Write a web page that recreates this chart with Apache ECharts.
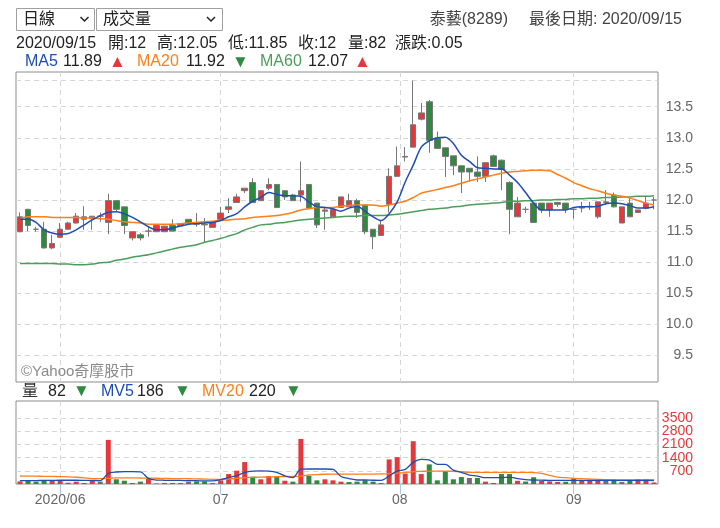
<!DOCTYPE html>
<html><head><meta charset="utf-8">
<script src="https://cdn.jsdelivr.net/npm/echarts@6/dist/echarts.min.js"></script>
<style>html,body{margin:0;padding:0;background:#fff}#c{width:720px;height:528px}</style>
</head><body><div id="c"></div><script>
const stockName = '泰藝(8289)';
const lastDateLabel = '2020/09/15';
const dates = [
 '2020/05/25','2020/05/26','2020/05/27','2020/05/28','2020/05/29',
 '2020/06/01','2020/06/02','2020/06/03','2020/06/04','2020/06/05','2020/06/08','2020/06/09','2020/06/10','2020/06/11','2020/06/12',
 '2020/06/15','2020/06/16','2020/06/17','2020/06/18','2020/06/19','2020/06/22','2020/06/23','2020/06/24','2020/06/29','2020/06/30',
 '2020/07/01','2020/07/02','2020/07/03','2020/07/06','2020/07/07','2020/07/08','2020/07/09','2020/07/10','2020/07/13','2020/07/14',
 '2020/07/15','2020/07/16','2020/07/17','2020/07/20','2020/07/21','2020/07/22','2020/07/23','2020/07/24','2020/07/27','2020/07/28',
 '2020/07/29','2020/07/30','2020/07/31',
 '2020/08/03','2020/08/04','2020/08/05','2020/08/06','2020/08/07','2020/08/10','2020/08/11','2020/08/12','2020/08/13','2020/08/14',
 '2020/08/17','2020/08/18','2020/08/19','2020/08/20','2020/08/21','2020/08/24','2020/08/25','2020/08/26','2020/08/27','2020/08/28','2020/08/31',
 '2020/09/01','2020/09/02','2020/09/03','2020/09/04','2020/09/07','2020/09/08','2020/09/09','2020/09/10','2020/09/11','2020/09/14','2020/09/15'
];
const opens = [11.49,11.85,11.53,11.53,11.23,11.40,11.53,11.63,11.69,11.70,11.74,11.64,11.99,11.89,11.39,11.44,11.50,11.49,11.49,11.59,
 11.59,11.69,11.64,11.61,11.56,11.69,11.85,11.96,12.15,12.28,11.99,12.19,12.25,12.15,12.08,12.08,12.25,11.95,11.82,11.73,
 11.88,11.89,11.99,11.92,11.53,11.43,11.93,12.38,12.69,12.85,13.30,13.58,12.99,12.84,12.71,12.55,12.51,12.45,12.38,12.71,
 12.64,12.28,11.73,11.85,11.95,11.95,11.84,11.93,11.95,11.85,11.87,11.89,11.73,11.96,12.08,11.63,11.95,11.80,11.87,12.00];
const highs = [11.80,11.86,11.57,11.65,11.44,11.63,11.65,11.79,11.90,11.74,11.80,12.10,11.99,11.89,11.49,11.47,11.56,11.59,11.58,11.69,
 11.62,11.69,11.79,11.71,11.64,11.89,12.03,12.10,12.19,12.35,12.15,12.35,12.25,12.15,12.10,12.62,12.25,11.95,11.88,11.85,
 12.05,12.10,12.02,11.92,11.53,11.67,12.51,12.86,12.85,13.92,13.56,13.61,13.10,12.84,12.71,12.55,12.51,12.70,12.60,12.73,
 12.65,12.30,12.05,11.89,11.95,11.95,11.95,11.97,11.95,11.86,11.97,11.97,11.97,12.16,12.12,11.89,12.03,11.84,12.06,12.05];
const lows = [11.48,11.50,11.49,11.22,11.21,11.39,11.52,11.62,11.52,11.52,11.65,11.45,11.81,11.45,11.35,11.35,11.41,11.49,11.49,11.50,
 11.59,11.61,11.57,11.31,11.56,11.69,11.79,11.96,12.11,11.96,11.99,12.16,11.87,12.00,11.99,11.97,11.87,11.55,11.52,11.73,
 11.88,11.89,11.71,11.45,11.21,11.43,11.80,12.38,12.62,12.85,13.28,12.76,12.83,12.37,12.40,12.11,12.29,12.29,12.29,12.54,
 12.16,11.45,11.73,11.79,11.64,11.79,11.73,11.89,11.79,11.70,11.80,11.84,11.70,11.92,11.88,11.63,11.73,11.79,11.85,11.85];
const closes = [11.73,11.59,11.53,11.23,11.30,11.53,11.63,11.74,11.73,11.74,11.74,11.99,11.85,11.59,11.49,11.39,11.50,11.59,11.58,11.50,
 11.62,11.62,11.61,11.60,11.64,11.79,11.89,12.05,12.19,11.96,12.15,12.25,11.88,12.05,11.99,12.15,11.87,11.60,11.84,11.85,
 12.05,11.99,11.80,11.49,11.41,11.60,12.38,12.55,12.70,13.21,13.40,12.96,12.83,12.70,12.55,12.45,12.45,12.38,12.60,12.54,
 12.49,11.85,11.95,11.85,11.64,11.84,11.95,11.96,11.85,11.85,11.89,11.90,11.97,11.97,11.89,11.89,11.73,11.84,11.95,12.00];
const volumes = [140,160,125,195,195,195,70,125,55,160,125,2350,250,175,55,125,285,30,55,55,
 55,125,140,140,55,195,530,710,1170,390,250,425,425,175,125,2400,425,195,250,195,
 125,105,125,195,125,55,1310,1430,550,2280,530,1045,195,690,250,370,320,320,125,55,
 530,530,170,130,360,170,140,110,120,290,170,170,170,240,170,110,210,260,268,82];
const ma5 = [11.69,11.69,11.64,11.52,11.47,11.45,11.46,11.52,11.60,11.68,11.75,11.80,11.81,11.78,11.72,11.65,11.57,11.52,11.52,11.55,
 11.58,11.61,11.62,11.63,11.64,11.67,11.73,11.78,11.89,11.98,12.04,12.12,12.09,12.07,12.07,12.06,11.97,11.89,11.88,11.86,
 11.82,11.87,11.90,11.82,11.73,11.67,11.78,11.97,12.29,12.56,12.85,12.95,13.00,13.01,12.91,12.72,12.62,12.52,12.51,12.50,
 12.50,12.40,12.28,12.12,11.95,11.84,11.84,11.84,11.84,11.88,11.89,11.89,11.90,11.94,11.95,11.94,11.91,11.87,11.87,11.89];
const ma20 = [11.70,11.73,11.73,11.73,11.72,11.72,11.72,11.72,11.71,11.71,11.70,11.69,11.67,11.65,11.64,11.63,11.61,11.61,11.61,11.61,
 11.62,11.63,11.64,11.65,11.66,11.67,11.68,11.69,11.70,11.72,11.73,11.74,11.75,11.77,11.80,11.84,11.86,11.88,11.88,11.88,
 11.90,11.91,11.92,11.92,11.92,11.90,11.92,11.95,11.98,12.04,12.11,12.14,12.17,12.20,12.23,12.27,12.31,12.34,12.37,12.40,
 12.43,12.45,12.46,12.47,12.48,12.48,12.47,12.41,12.35,12.28,12.23,12.18,12.15,12.11,12.08,12.06,12.03,11.99,11.95,11.92];
const ma60 = [10.98,10.98,10.98,10.98,10.98,10.97,10.97,10.96,10.96,10.97,10.99,11.00,11.03,11.05,11.08,11.10,11.12,11.15,11.18,11.21,
 11.24,11.26,11.28,11.32,11.35,11.38,11.42,11.46,11.52,11.56,11.60,11.61,11.63,11.64,11.66,11.68,11.69,11.70,11.71,11.72,
 11.73,11.74,11.74,11.75,11.75,11.75,11.76,11.77,11.79,11.81,11.83,11.85,11.86,11.87,11.89,11.90,11.92,11.93,11.94,11.95,
 11.96,11.98,11.98,11.99,11.99,12.00,12.00,12.01,12.01,12.02,12.02,12.03,12.03,12.04,12.04,12.05,12.05,12.06,12.06,12.07];
const mv5 = [175,180,185,190,195,200,200,200,195,190,180,560,640,660,660,650,300,210,200,195,
 190,180,175,165,165,230,340,440,620,690,700,690,620,430,340,790,800,800,800,780,
 400,290,212,212,200,195,425,690,780,1150,1310,1280,1045,1045,740,620,477,425,335,335,
 335,370,283,230,212,205,195,195,195,190,195,195,195,195,195,195,190,190,190,186];
const mv20 = [425,420,415,410,405,395,380,360,330,290,283,300,330,330,325,320,315,305,295,290,
 285,280,270,260,250,250,265,300,340,355,370,375,385,390,400,420,480,500,520,530,
 530,530,530,530,530,535,550,583,600,655,672,690,690,690,670,655,620,620,620,620,
 620,620,620,615,610,565,460,370,335,300,283,265,250,230,230,220,220,220,225,220];
const priceTicks = [9.5,10.0,10.5,11.0,11.5,12.0,12.5,13.0,13.5];
const volTicks = [700,1400,2100,2800,3500];
const monthStarts = ['2020/06/01','2020/07/01','2020/08/01','2020/09/01'];
const monthLabels = ['2020/06','07','08','09'];

const FONT = "'Liberation Sans','Noto Sans CJK TC',sans-serif";
const RED = '#e3393c', GREEN = '#2e8a3e', GRAY = '#6e6e6e';
const C_MA5 = '#1f4db3', C_MA20 = '#ff7f1a', C_MA60 = '#4a9e5a';
const GRIDLINE = {show: true, showMinLine: true, showMaxLine: true, lineStyle: {color: '#d6d6d6', width: 1, type: [5, 4]}};
const N = dates.length, last = N - 1;

const toT = d => Date.parse(d.replace(/\//g, '-'));
function monthPos(d) {
  const t = toT(d);
  for (let i = 0; i < N; i++) {
    const ti = toT(dates[i]);
    if (ti === t) return i + 0.5;
    if (ti > t) { const tp = toT(dates[i - 1]); return i - 0.5 + (t - tp) / (ti - tp); }
  }
  return N;
}
const monthPosArr = monthStarts.map(monthPos);

const candleData = dates.map((d, i) => [opens[i], closes[i], lows[i], highs[i]]);
const volData = volumes.map((v, i) => {
  const ref = i === 0 ? opens[0] : closes[i - 1];
  const c = closes[i] > ref ? RED : (closes[i] < ref ? GREEN : GRAY);
  return {value: v, itemStyle: {color: c}};
});

function txt(x, y, s, color, size, align) {
  return {type: 'text', x: x, y: y, silent: true,
    style: {text: s, fill: color, font: size + 'px ' + FONT, align: align || 'left', verticalAlign: 'middle'}};
}
const arrow = (a, b) => a >= b ? ['▲', RED] : ['▼', GREEN];
const fmt = v => String(+v.toFixed(2));

const graphic = [];
graphic.push({type: 'rect', shape: {x: 16.5, y: 8.5, width: 78, height: 22}, style: {fill: '#fff', stroke: '#a0a0a0', lineWidth: 1}});
graphic.push(txt(23, 20, '日線', '#222', 16));
graphic.push({type: 'polyline', shape: {points: [[80.5, 17], [84.5, 21], [88.5, 17]]}, style: {stroke: '#222', lineWidth: 1.5, fill: null}});
graphic.push({type: 'rect', shape: {x: 96.5, y: 8.5, width: 126, height: 22}, style: {fill: '#fff', stroke: '#a0a0a0', lineWidth: 1}});
graphic.push(txt(103, 20, '成交量', '#222', 16));
graphic.push({type: 'polyline', shape: {points: [[207, 17], [211, 21], [215, 17]]}, style: {stroke: '#222', lineWidth: 1.5, fill: null}});
graphic.push(txt(508, 20, stockName, '#444', 16, 'right'));
graphic.push(txt(682, 20, '最後日期: ' + lastDateLabel, '#444', 16, 'right'));

const line2 = [[16, lastDateLabel], [108, '開:' + fmt(opens[last])], [157, '高:' + fmt(highs[last])], [228, '低:' + fmt(lows[last])],
  [298, '收:' + fmt(closes[last])], [348, '量:' + volumes[last]], [395, '漲跌:' + (closes[last] - closes[last - 1]).toFixed(2)]];
line2.forEach(p => graphic.push(txt(p[0], 43.5, p[1], '#222', 16)));

function legendItem(x, name, nameColor, vals, numX, triX, valFmt) {
  const a = arrow(vals[last], vals[last - 1]);
  graphic.push(txt(x, 62, name, nameColor, 16));
  graphic.push(txt(numX, 62, valFmt(vals[last]), '#222', 16));
  graphic.push(txt(triX, 62, a[0], a[1], 17));
}
legendItem(25, 'MA5', C_MA5, ma5, 63, 109, v => v.toFixed(2));
legendItem(137, 'MA20', C_MA20, ma20, 186, 232, v => v.toFixed(2));
legendItem(260, 'MA60', C_MA60, ma60, 308, 354, v => v.toFixed(2));

function volLegend(x, name, nameColor, vals, numX, triX) {
  const a = arrow(vals[last], vals[last - 1]);
  graphic.push(txt(x, 391.5, name, nameColor, 16));
  graphic.push(txt(numX, 391.5, String(vals[last]), '#222', 16));
  graphic.push(txt(triX, 391.5, a[0], a[1], 17));
}
volLegend(22, '量', '#333', volumes, 48, 73);
volLegend(101, 'MV5', C_MA5, mv5, 137, 174);
volLegend(202, 'MV20', C_MA20, mv20, 249, 285);
graphic.push(txt(21, 372, '©Yahoo奇摩股市', '#8a8a8a', 15));

// volume tick labels split over two right-side axes so that neighbouring labels are never dropped
const volTicksA = volTicks.filter((v, i) => i % 2 === 0);
const volTicksB = volTicks.filter((v, i) => i % 2 === 1);
const VOLMAX = 4420;
function volAxis(labels, withLines) {
  return {type: 'value', gridIndex: 1, position: 'right', min: 0, max: VOLMAX,
    axisLine: {show: false},
    axisTick: {show: false, customValues: withLines ? volTicks : labels},
    axisLabel: {customValues: labels, formatter: v => String(v), align: 'right', margin: 35, color: RED, fontSize: 14,
      hideOverlap: false, showMinLabel: true, showMaxLabel: true},
    splitLine: withLines ? GRIDLINE : {show: false}};
}

const chart = echarts.init(document.getElementById('c'), null, {renderer: 'canvas'});
chart.setOption({
  animation: false,
  backgroundColor: '#fff',
  textStyle: {fontFamily: FONT},
  grid: [
    {left: 16, top: 72, width: 642, height: 310, show: true, borderColor: '#8c8c8c', borderWidth: 1, backgroundColor: 'transparent'},
    {left: 16, top: 401, width: 642, height: 83, show: true, borderColor: '#8c8c8c', borderWidth: 1, backgroundColor: 'transparent'}
  ],
  xAxis: [
    {type: 'category', gridIndex: 0, data: dates, show: false, position: 'bottom'},
    {type: 'category', gridIndex: 1, data: dates, show: false, position: 'bottom'},
    {type: 'value', gridIndex: 0, min: 0, max: N, position: 'bottom',
      axisLine: {show: false}, axisLabel: {show: false},
      axisTick: {show: false, customValues: monthPosArr}, splitLine: GRIDLINE},
    {type: 'value', gridIndex: 1, min: 0, max: N, position: 'bottom',
      axisLine: {show: false},
      axisTick: {show: true, length: 10, customValues: monthPosArr, lineStyle: {color: '#a9c7e6', width: 1}},
      axisLabel: {customValues: monthPosArr, margin: 9, color: '#666', fontSize: 14, hideOverlap: false,
        formatter: v => { let k = 0, best = 1e9; monthPosArr.forEach((p, i) => { if (Math.abs(p - v) < best) { best = Math.abs(p - v); k = i; } }); return monthLabels[k]; }},
      splitLine: GRIDLINE}
  ],
  yAxis: [
    {type: 'value', gridIndex: 0, position: 'right', min: 9.074, max: 14.058, scale: true,
      axisLine: {show: false},
      axisTick: {show: false, customValues: priceTicks.concat([Math.max.apply(null, highs)])},
      axisLabel: {customValues: priceTicks, formatter: v => v.toFixed(1), align: 'right', margin: 35, color: '#666', fontSize: 14, hideOverlap: false},
      splitLine: GRIDLINE},
    volAxis(volTicksA, true),
    volAxis(volTicksB, false)
  ],
  series: [
    {type: 'candlestick', xAxisIndex: 0, yAxisIndex: 0, data: candleData, barWidth: 6,
      itemStyle: {color: RED, color0: GREEN, borderColor: '#777', borderColor0: '#777', borderColorDoji: '#777', borderWidth: 1}},
    {type: 'line', xAxisIndex: 0, yAxisIndex: 0, data: ma60, symbol: 'none', smooth: 0.3, lineStyle: {color: C_MA60, width: 1.5}},
    {type: 'line', xAxisIndex: 0, yAxisIndex: 0, data: ma20, symbol: 'none', smooth: 0.3, lineStyle: {color: C_MA20, width: 1.5}},
    {type: 'line', xAxisIndex: 0, yAxisIndex: 0, data: ma5, symbol: 'none', smooth: 0.3, lineStyle: {color: C_MA5, width: 1.5}},
    {type: 'bar', xAxisIndex: 1, yAxisIndex: 1, data: volData, barWidth: 5},
    {type: 'line', xAxisIndex: 1, yAxisIndex: 1, data: mv20, symbol: 'none', smooth: 0.3, lineStyle: {color: C_MA20, width: 1.3}},
    {type: 'line', xAxisIndex: 1, yAxisIndex: 1, data: mv5, symbol: 'none', smooth: 0.3, lineStyle: {color: C_MA5, width: 1.3}}
  ],
  graphic: graphic
});
</script></body></html>
